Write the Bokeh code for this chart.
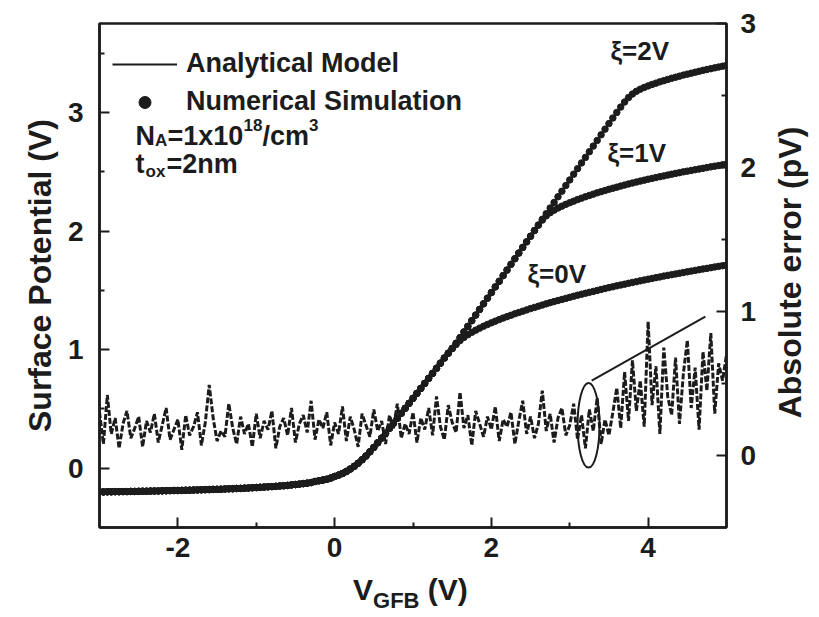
import math
import numpy as np
from bokeh.plotting import figure
from bokeh.layouts import row, column
from bokeh.models import Range1d, LinearAxis, FixedTicker, Legend, LegendItem, Label, Div
from bokeh.embed import file_html
from bokeh.resources import INLINE

FONT = "Liberation Sans"
INK = "#1c1c1c"

# Gate voltage sweep (V), 50 mV step
vgfb = np.round(np.arange(-3.0, 5.0001, 0.05), 2)

# Surface potential (V): common branch for VGFB = -3.00 ... 1.50 V
psi_common = [
    -0.200, -0.200, -0.199, -0.199, -0.198, -0.198, -0.197, -0.197, -0.196, -0.196,
    -0.195, -0.194, -0.194, -0.193, -0.192, -0.192, -0.191, -0.190, -0.189, -0.188,
    -0.188, -0.187, -0.186, -0.185, -0.184, -0.183, -0.182, -0.181, -0.180, -0.179,
    -0.178, -0.177, -0.175, -0.174, -0.173, -0.171, -0.170, -0.168, -0.167, -0.165,
    -0.163, -0.161, -0.159, -0.157, -0.155, -0.153, -0.150, -0.148, -0.145, -0.141,
    -0.138, -0.134, -0.130, -0.126, -0.121, -0.112, -0.106, -0.100, -0.093, -0.083,
    -0.070, -0.058, -0.044, -0.027, -0.007, 0.016, 0.042, 0.071, 0.103, 0.138,
    0.175, 0.214, 0.254, 0.295, 0.337, 0.379, 0.421, 0.463, 0.505, 0.547,
    0.589, 0.631, 0.673, 0.715, 0.758, 0.800, 0.843, 0.886, 0.929, 0.970,
    1.010,
]

# Surface potential (V) for VGFB = 1.55 ... 5.00 V, one list per xi
psi_xi0_tail = [
    1.043, 1.076, 1.103, 1.126, 1.146, 1.164, 1.181, 1.197, 1.212, 1.226,
    1.240, 1.253, 1.266, 1.278, 1.290, 1.302, 1.313, 1.324, 1.335, 1.346,
    1.356, 1.366, 1.376, 1.386, 1.396, 1.405, 1.414, 1.423, 1.432, 1.441,
    1.450, 1.459, 1.467, 1.475, 1.483, 1.491, 1.499, 1.507, 1.515, 1.523,
    1.530, 1.538, 1.545, 1.552, 1.559, 1.566, 1.573, 1.580, 1.587, 1.594,
    1.600, 1.607, 1.613, 1.620, 1.626, 1.632, 1.638, 1.644, 1.650, 1.656,
    1.662, 1.668, 1.674, 1.680, 1.685, 1.691, 1.697, 1.702, 1.708, 1.713,
]
psi_xi1_tail = [
    1.054, 1.101, 1.149, 1.196, 1.244, 1.291, 1.339, 1.386, 1.434, 1.481,
    1.529, 1.576, 1.624, 1.671, 1.719, 1.766, 1.814, 1.861, 1.909, 1.956,
    2.004, 2.049, 2.092, 2.128, 2.155, 2.176, 2.194, 2.210, 2.225, 2.239,
    2.252, 2.265, 2.277, 2.289, 2.300, 2.311, 2.322, 2.332, 2.342, 2.352,
    2.361, 2.370, 2.379, 2.388, 2.397, 2.405, 2.413, 2.421, 2.429, 2.437,
    2.444, 2.451, 2.458, 2.465, 2.472, 2.479, 2.486, 2.492, 2.499, 2.505,
    2.511, 2.517, 2.523, 2.529, 2.535, 2.541, 2.547, 2.552, 2.558, 2.563,
]
psi_xi2_tail = [
    1.054, 1.101, 1.149, 1.196, 1.244, 1.291, 1.339, 1.386, 1.434, 1.481,
    1.529, 1.576, 1.624, 1.671, 1.719, 1.766, 1.814, 1.861, 1.909, 1.956,
    2.004, 2.051, 2.099, 2.146, 2.194, 2.241, 2.289, 2.336, 2.384, 2.431,
    2.479, 2.526, 2.574, 2.621, 2.669, 2.716, 2.764, 2.811, 2.859, 2.906,
    2.953, 3.000, 3.045, 3.088, 3.125, 3.155, 3.178, 3.196, 3.211, 3.224,
    3.236, 3.247, 3.258, 3.268, 3.278, 3.288, 3.297, 3.306, 3.315, 3.323,
    3.331, 3.339, 3.347, 3.355, 3.362, 3.369, 3.376, 3.383, 3.390, 3.397,
]

# Absolute error between model and simulation (pV), same sweep
abs_error = [
    0.30, 0.08, 0.42, 0.15, 0.26, 0.05, 0.22, 0.31, 0.12, 0.19,
    0.27, 0.06, 0.24, 0.16, 0.29, 0.09, 0.21, 0.33, 0.11, 0.18,
    0.25, 0.04, 0.28, 0.14, 0.20, 0.30, 0.07, 0.23, 0.49, 0.26,
    0.10, 0.17, 0.13, 0.36, 0.19, 0.08, 0.27, 0.15, 0.22, 0.06,
    0.29, 0.12, 0.24, 0.18, 0.31, 0.05, 0.20, 0.26, 0.14, 0.33,
    0.09, 0.22, 0.28, 0.16, 0.38, 0.11, 0.25, 0.19, 0.30, 0.07,
    0.23, 0.15, 0.34, 0.10, 0.27, 0.18, 0.06, 0.29, 0.21, 0.13,
    0.32, 0.17, 0.24, 0.08, 0.28, 0.19, 0.36, 0.12, 0.22, 0.15,
    0.30, 0.09, 0.26, 0.18, 0.33, 0.14, 0.41, 0.20, 0.11, 0.35,
    0.23, 0.16, 0.44, 0.19, 0.28, 0.07, 0.31, 0.22, 0.13, 0.27,
    0.18, 0.34, 0.10, 0.25, 0.20, 0.30, 0.08, 0.24, 0.38, 0.15,
    0.27, 0.12, 0.22, 0.45, 0.17, 0.29, 0.09, 0.26, 0.33, 0.14,
    0.21, 0.36, 0.11, 0.28, 0.05, 0.32, 0.17, 0.40, 0.08, 0.25,
    0.14, 0.30, 0.47, 0.19, 0.58, 0.24, 0.66, 0.31, 0.52, 0.20,
    0.93, 0.35, 0.62, 0.15, 0.75, 0.41, 0.28, 0.68, 0.22, 0.57,
    0.80, 0.33, 0.61, 0.18, 0.72, 0.45, 0.85, 0.29, 0.64, 0.52,
    0.70,
]

x_ticks = [-2, 0, 2, 4]
x_tick_text = {-2: "-2", 0: "0", 2: "2", 4: "4"}

curves = {
    "0": psi_common + psi_xi0_tail,
    "1": psi_common + psi_xi1_tail,
    "2": psi_common + psi_xi2_tail,
}

# Canvas geometry (pixels): main panel, title strip below, title strip right
TOTAL_W, TOTAL_H = 819, 617
MAIN_W, MAIN_H = 770, 575
FRAME_L, FRAME_T, FRAME_W, FRAME_H = 99, 23, 627, 504
X0, X1 = -3.0, 5.0
Y0, Y1 = -0.5, 3.75


def dx(px):
    return X0 + (px - FRAME_L) * (X1 - X0) / FRAME_W


def dy(py):
    return Y1 - (py - FRAME_T) * (Y1 - Y0) / FRAME_H


p = figure(
    width=MAIN_W, height=MAIN_H,
    x_range=Range1d(X0, X1), y_range=Range1d(Y0, Y1),
    output_backend="svg", toolbar_location=None,
    min_border_left=FRAME_L, min_border_right=MAIN_W - FRAME_L - FRAME_W,
    min_border_top=FRAME_T, min_border_bottom=MAIN_H - FRAME_T - FRAME_H,
)
p.extra_y_ranges = {"err": Range1d(-0.5, 3.0)}
p.grid.visible = False
p.outline_line_color = INK
p.outline_line_width = 2.5
p.outline_line_alpha = 1.0
p.background_fill_color = "white"
p.border_fill_color = "white"

right = LinearAxis(y_range_name="err")
p.add_layout(right, "right")

p.xaxis.ticker = FixedTicker(ticks=x_ticks, minor_ticks=[-1, 1, 3])
p.xaxis.major_label_overrides = x_tick_text
p.yaxis[0].ticker = FixedTicker(ticks=[0, 1, 2, 3], minor_ticks=[0.5, 1.5, 2.5, 3.5])
right.ticker = FixedTicker(ticks=[0, 1, 2, 3], minor_ticks=[0.5, 1.5, 2.5])

p.yaxis[0].axis_label = "Surface Potential (V)"

for ax in [p.xaxis[0], p.yaxis[0], right]:
    ax.axis_line_color = INK
    ax.axis_line_width = 2.5
    ax.major_tick_line_color = INK
    ax.minor_tick_line_color = INK
    ax.major_tick_line_width = 2
    ax.minor_tick_line_width = 2
    ax.major_tick_in = 10
    ax.major_tick_out = 0
    ax.minor_tick_in = 5
    ax.minor_tick_out = 0
    ax.major_label_text_font = FONT
    ax.major_label_text_font_size = "28px"
    ax.major_label_text_font_style = "bold"
    ax.major_label_text_color = INK
    ax.axis_label_text_font = FONT
    ax.axis_label_text_font_size = "32px"
    ax.axis_label_text_font_style = "bold"
    ax.axis_label_text_color = INK

p.xaxis[0].major_label_standoff = 10
p.yaxis[0].major_label_standoff = 16
p.yaxis[0].axis_label_standoff = 7
right.major_label_standoff = 14

# Absolute error (right axis), dashed trace
p.line(vgfb, abs_error, y_range_name="err", line_color=INK, line_width=3, line_dash="6 2")

# Marker for the error trace and pointer to its axis
p.ellipse(x=3.24, y=0.21, width=0.28, height=0.59, y_range_name="err",
          fill_alpha=0, line_color=INK, line_width=2)
p.segment(x0=3.28, y0=0.52, x1=4.73, y1=0.965, y_range_name="err",
          line_color=INK, line_width=2)

model_r = None
sim_r = None
for key, vals in curves.items():
    lr = p.line(vgfb, vals, line_color=INK, line_width=2)
    sr = p.scatter(vgfb, vals, size=6.5, fill_color=INK, line_color=INK)
    if model_r is None:
        model_r, sim_r = lr, sr

legend = Legend(
    items=[LegendItem(label="Analytical Model", renderers=[model_r]),
           LegendItem(label="Numerical Simulation", renderers=[sim_r])],
    location=(13, 410), orientation="vertical",
    glyph_width=65, glyph_height=30, label_standoff=9, spacing=7,
    padding=0, margin=0, border_line_alpha=0, background_fill_alpha=0,
    label_text_font=FONT, label_text_font_size="27px",
    label_text_font_style="bold", label_text_color=INK,
)
p.add_layout(legend, "center")


def txt(fig, x, y, s, size, baseline="alphabetic", align="left", angle=0.0):
    fig.add_layout(Label(
        x=x, y=y, text=s, text_font=FONT, text_font_size=size,
        text_font_style="bold", text_color=INK,
        text_baseline=baseline, text_align=align, angle=angle,
    ))


def ptxt(px, py, s, size, baseline="alphabetic"):
    txt(p, dx(px), dy(py), s, size, baseline=baseline)


# Doping and oxide thickness
ptxt(135, 135, "N", "27px")
ptxt(154.5, 140, "A", "17px")
ptxt(167, 135, "=1x10", "27px")
ptxt(243, 124, "18", "17px")
ptxt(262, 135, "/cm", "27px")
ptxt(308.5, 124, "3", "17px")
ptxt(135, 163, "t", "27px")
ptxt(145, 171, "ox", "17px")
ptxt(166, 163, "=2nm", "27px")

# Curve tags
ptxt(610, 50, "ξ=2V", "26px", baseline="middle")
ptxt(607, 152, "ξ=1V", "26px", baseline="middle")
ptxt(527, 273, "ξ=0V", "26px", baseline="middle")

# Bottom axis title with subscript, as HTML below the plot
xtitle_html = (
    '<div style="padding-left:353px; white-space:nowrap; '
    "font-family:'Liberation Sans', Arial, sans-serif; font-weight:bold; "
    'font-size:30px; line-height:30px; color:#1c1c1c;">'
    'V<span style="font-size:22px; position:relative; top:8px;">GFB</span> (V)</div>'
)
pb = Div(text=xtitle_html, width=MAIN_W, height=TOTAL_H - MAIN_H, margin=0)

# Right title strip: coordinates are canvas pixels
pr = figure(width=TOTAL_W - MAIN_W, height=TOTAL_H,
            x_range=Range1d(MAIN_W, TOTAL_W), y_range=Range1d(TOTAL_H, 0),
            output_backend="svg", toolbar_location=None,
            x_axis_location=None, y_axis_location=None, min_border=0)
pr.grid.visible = False
pr.outline_line_color = None
pr.background_fill_color = "white"
pr.border_fill_color = "white"
txt(pr, 789, 272, "Absolute error (pV)", "32px", baseline="middle", align="center",
    angle=math.pi / 2)

layout = row(column(p, pb), pr)
open("out.html", "w").write(file_html(layout, INLINE))
